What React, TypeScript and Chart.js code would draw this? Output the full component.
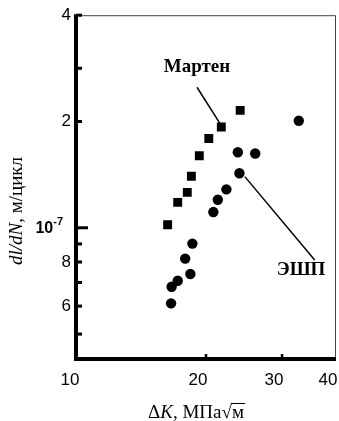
import React, { useEffect, useRef } from 'react';
import { Chart, registerables } from 'chart.js';

Chart.register(...registerables);

// ΔK, MPa·√m  and  dl/dN, m/cycle
const martenK = [16.3, 17.2, 18.1, 18.5, 19.3, 20.3, 21.7, 24.0];
const martenRate = [1.02e-7, 1.18e-7, 1.26e-7, 1.4e-7, 1.6e-7, 1.79e-7, 1.93e-7, 2.15e-7];
const eshpK = [16.6, 16.65, 17.2, 18.4, 17.9, 18.6, 20.8, 21.3, 22.3, 23.9, 23.7, 26.0, 32.8];
const eshpRate = [0.611e-7, 0.681e-7, 0.708e-7, 0.74e-7, 0.818e-7, 0.902e-7, 1.108e-7, 1.201e-7, 1.285e-7, 1.427e-7, 1.636e-7, 1.623e-7, 2.01e-7];

const xTicks = [10, 20, 30, 40];
const xTickLabels = ['10', '20', '30', '40'];
const yTicks = [4e-7, 2e-7, 1e-7, 0.8e-7, 0.6e-7];
const yTickLabels = ['4', '2', '', '8', '6'];
const yMinorTicks = [2.83e-7, 0.9e-7, 0.7e-7, 0.5e-7];
const xMin = 10;
const xMax = 40;
const yMin = 4.25e-8;
const yMax = 4e-7;

// annotation anchors in data units
const martenLabel = { text: 'Мартен', x: 19.06, y: 2.85e-7 };
const martenLeader = [[19.06, 2.5e-7], [21.54, 1.975e-7]];
const eshpLabel = { text: 'ЭШП', x: 33.2, y: 0.76e-7 };
const eshpLeader = [[24.6, 1.396e-7], [35.7, 0.811e-7]];

const SANS = '"Liberation Sans", Arial, sans-serif';
const SERIF = '"Liberation Serif", "Times New Roman", serif';

const decorPlugin = {
  id: 'decor',
  afterDraw(chart: any) {
    const ctx = chart.ctx as CanvasRenderingContext2D;
    const { left, right, top, bottom } = chart.chartArea;
    const xs = chart.scales.x;
    const ys = chart.scales.y;
    ctx.save();
    ctx.strokeStyle = '#000';
    ctx.fillStyle = '#000';
    ctx.lineCap = 'butt';

    // thin top / right frame
    ctx.lineWidth = 1;
    ctx.strokeStyle = '#444';
    ctx.beginPath();
    ctx.moveTo(left, top + 0.5);
    ctx.lineTo(right - 0.5, top + 0.5);
    ctx.lineTo(right - 0.5, bottom);
    ctx.stroke();

    // thick left / bottom axes
    ctx.strokeStyle = '#000';
    ctx.lineWidth = 4;
    ctx.beginPath();
    ctx.moveTo(left, top - 1);
    ctx.lineTo(left, bottom + 2);
    ctx.moveTo(left - 2, bottom);
    ctx.lineTo(right, bottom);
    ctx.stroke();

    // y ticks (inward)
    ctx.lineWidth = 3;
    [...yTicks, ...yMinorTicks].forEach((v) => {
      const py = ys.getPixelForValue(v);
      const len = v === 1e-7 ? 12 : 6;
      ctx.beginPath();
      ctx.moveTo(left, py);
      ctx.lineTo(left + len, py);
      ctx.stroke();
    });
    // x ticks (inward)
    ctx.lineWidth = 2.5;
    xTicks.slice(1, 3).forEach((v) => {
      const px = xs.getPixelForValue(v);
      ctx.beginPath();
      ctx.moveTo(px, bottom);
      ctx.lineTo(px, bottom - 5);
      ctx.stroke();
    });

    // x tick labels
    ctx.font = `17px ${SANS}`;
    ctx.textAlign = 'center';
    ctx.textBaseline = 'alphabetic';
    xTicks.forEach((v, i) => {
      const px = xs.getPixelForValue(v) - (i === 0 ? 6 : 8);
      ctx.fillText(xTickLabels[i], px, bottom + 26);
    });

    // 10^-7 label
    const p7 = ys.getPixelForValue(1e-7);
    ctx.textAlign = 'left';
    ctx.font = `bold 16px ${SANS}`;
    const w10 = ctx.measureText('10').width;
    ctx.font = `bold 11px ${SANS}`;
    const wExp = ctx.measureText('-7').width;
    const x0 = left - 13 - w10 - wExp;
    ctx.font = `bold 16px ${SANS}`;
    ctx.fillText('10', x0, p7 + 5);
    ctx.font = `bold 11px ${SANS}`;
    ctx.fillText('-7', x0 + w10, p7 - 3);

    // y title
    ctx.save();
    ctx.translate(17, 211);
    ctx.rotate(-Math.PI / 2);
    const partsY: [string, string][] = [
      ['dl/dN', `italic 19px ${SERIF}`],
      [', м/цикл', `19px ${SERIF}`],
    ];
    let tot = 0;
    partsY.forEach(([t, f]) => { ctx.font = f; tot += ctx.measureText(t).width; });
    let cx = -tot / 2;
    ctx.textBaseline = 'middle';
    partsY.forEach(([t, f]) => { ctx.font = f; ctx.fillText(t, cx, 0); cx += ctx.measureText(t).width; });
    ctx.restore();

    // x title
    const partsX: [string, string][] = [
      ['Δ', `19px ${SERIF}`],
      ['K', `italic 19px ${SERIF}`],
      [', МПа', `19px ${SERIF}`],
      ['√', `19px ${SERIF}`],
      ['м', `19px ${SERIF}`],
    ];
    tot = 0;
    partsX.forEach(([t, f]) => { ctx.font = f; tot += ctx.measureText(t).width; });
    cx = 196 - tot / 2;
    const base = 418;
    ctx.textBaseline = 'alphabetic';
    let mStart = 0;
    partsX.forEach(([t, f], i) => {
      ctx.font = f;
      if (i === 4) mStart = cx;
      ctx.fillText(t, cx, base);
      cx += ctx.measureText(t).width;
    });
    ctx.lineWidth = 1;
    ctx.beginPath();
    ctx.moveTo(mStart - 1, base - 14.5);
    ctx.lineTo(cx + 1, base - 14.5);
    ctx.stroke();

    // annotations
    ctx.font = `bold 19px ${SERIF}`;
    ctx.textAlign = 'center';
    ctx.textBaseline = 'middle';
    ctx.fillText(martenLabel.text, xs.getPixelForValue(martenLabel.x), ys.getPixelForValue(martenLabel.y));
    ctx.fillText(eshpLabel.text, xs.getPixelForValue(eshpLabel.x), ys.getPixelForValue(eshpLabel.y));

    ctx.lineWidth = 1.5;
    [martenLeader, eshpLeader].forEach((ln) => {
      ctx.beginPath();
      ctx.moveTo(xs.getPixelForValue(ln[0][0]), ys.getPixelForValue(ln[0][1]));
      ctx.lineTo(xs.getPixelForValue(ln[1][0]), ys.getPixelForValue(ln[1][1]));
      ctx.stroke();
    });
    ctx.restore();
  },
};

export default function App() {
  const ref = useRef<HTMLCanvasElement | null>(null);
  useEffect(() => {
    if (!ref.current) return;
    const chart = new Chart(ref.current, {
      type: 'scatter',
      data: {
        datasets: [
          {
            label: 'Мартен',
            data: martenK.map((k, i) => ({ x: k, y: martenRate[i] })),
            pointStyle: 'rect',
            pointRadius: 6.3,
            pointHoverRadius: 6.3,
            backgroundColor: '#000',
            borderWidth: 0,
          },
          {
            label: 'ЭШП',
            data: eshpK.map((k, i) => ({ x: k, y: eshpRate[i] })),
            pointStyle: 'circle',
            pointRadius: 5.2,
            pointHoverRadius: 5.2,
            backgroundColor: '#000',
            borderWidth: 0,
          },
        ],
      },
      options: {
        animation: false,
        responsive: true,
        maintainAspectRatio: false,
        devicePixelRatio: 1,
        layout: { autoPadding: false, padding: { top: 15, right: 3, left: 0, bottom: 0 } },
        plugins: { legend: { display: false }, tooltip: { enabled: false } },
        scales: {
          x: {
            type: 'logarithmic',
            min: xMin,
            max: xMax,
            grid: { display: false, drawTicks: false },
            border: { display: false },
            afterFit: (s: any) => { s.height = 62; },
            afterBuildTicks: (s: any) => { s.ticks = xTicks.map((v) => ({ value: v })); },
            ticks: { display: false },
          },
          y: {
            type: 'logarithmic',
            min: yMin,
            max: yMax,
            grid: { display: false, drawTicks: false },
            border: { display: false },
            afterFit: (s: any) => { s.width = 76; },
            afterBuildTicks: (s: any) => { s.ticks = [...yTicks, ...yMinorTicks].map((v) => ({ value: v })); },
            ticks: {
              autoSkip: false,
              padding: 5,
              color: '#000',
              font: { family: SANS, size: 17 },
              callback: (v: any) => {
                const i = yTicks.findIndex((t) => Math.abs(t - Number(v)) < 1e-12);
                return i >= 0 ? yTickLabels[i] : '';
              },
            },
          },
        },
      },
      plugins: [decorPlugin],
    });
    return () => chart.destroy();
  }, []);
  return (
    <div style={{ position: 'absolute', left: 0, top: 0, width: 339, height: 421, background: '#fff' }}>
      <canvas ref={ref} />
    </div>
  );
}
